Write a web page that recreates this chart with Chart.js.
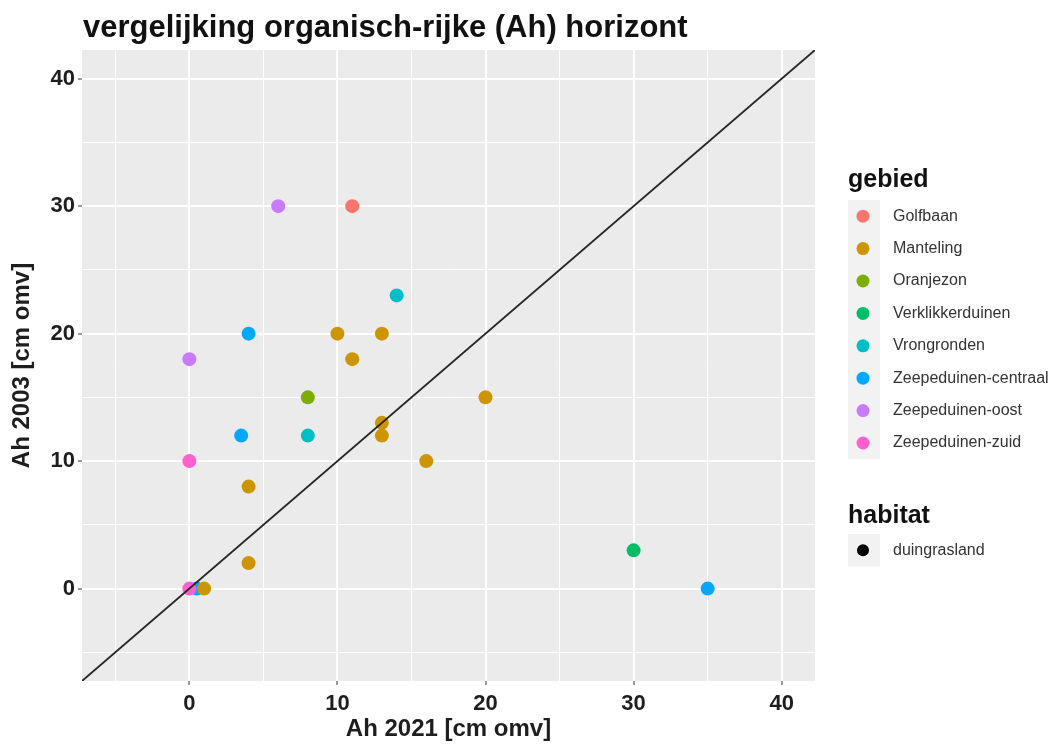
<!DOCTYPE html>
<html>
<head>
<meta charset="utf-8">
<script src="https://cdn.jsdelivr.net/npm/chart.js@4.4.1/dist/chart.umd.min.js"></script>
<style>
  html, body { margin: 0; padding: 0; background: #fff; }
  #wrap { width: 1054px; height: 744px; }
</style>
</head>
<body>
<div id="wrap"><canvas id="ahplot" width="1054" height="744"></canvas></div>
<script>
// gebied (categories) and their ggplot hue colours
var gebieden = ["Golfbaan", "Manteling", "Oranjezon", "Verklikkerduinen", "Vrongronden",
  "Zeepeduinen-centraal", "Zeepeduinen-oost", "Zeepeduinen-zuid"];
var kleuren = ["#F8766D", "#CD9600", "#7CAE00", "#00BE67", "#00BFC4", "#00A9FF", "#C77CFF", "#FF61CC"];

// one entry per meetpunt
var meetpuntGebied = [
  "Golfbaan",
  "Manteling", "Manteling", "Manteling", "Manteling", "Manteling",
  "Manteling", "Manteling", "Manteling", "Manteling", "Manteling",
  "Oranjezon",
  "Verklikkerduinen",
  "Vrongronden", "Vrongronden",
  "Zeepeduinen-centraal", "Zeepeduinen-centraal", "Zeepeduinen-centraal", "Zeepeduinen-centraal",
  "Zeepeduinen-oost", "Zeepeduinen-oost",
  "Zeepeduinen-zuid", "Zeepeduinen-zuid"
];
var ah2021 = [11, 10, 13, 11, 13, 13, 20, 16, 4, 4, 1, 8, 30, 14, 8, 4, 3.5, 35, 0.5, 6, 0, 0, 0];
var ah2003 = [30, 20, 20, 18, 13, 12, 15, 10, 8, 2, 0, 15, 3, 23, 12, 20, 12, 0, 0, 30, 18, 10, 0];

var tickWaarden = [0, 10, 20, 30, 40];
var asMin = -7.25, asMax = 42.25;

var habitats = ["duingrasland"];

var FONT = "'Liberation Sans', Arial, sans-serif";

var datasets = [{
  type: "line",
  label: "1:1",
  data: [{x: asMin, y: asMin}, {x: asMax, y: asMax}],
  borderColor: "#262626",
  borderWidth: 1.8,
  pointRadius: 0,
  fill: false,
  order: 0
}];
gebieden.forEach(function (g, i) {
  var pts = [];
  meetpuntGebied.forEach(function (mg, j) {
    if (mg === g) pts.push({x: ah2021[j], y: ah2003[j]});
  });
  datasets.push({
    label: g,
    data: pts,
    backgroundColor: kleuren[i],
    borderWidth: 0,
    pointRadius: 7,
    pointHoverRadius: 7,
    order: g === "Zeepeduinen-centraal" ? 3 : 1
  });
});

function asOpties(isY) {
  return {
    type: "linear",
    min: asMin,
    max: asMax,
    afterBuildTicks: function (scale) {
      var t = [];
      for (var v = -5; v <= 40; v += 5) t.push({value: v});
      scale.ticks = t;
    },
    afterFit: function (scale) {
      if (isY) scale.width = 82; else scale.height = 63;
    },
    ticks: {
      color: "#1e1e1e",
      font: {family: FONT, size: 22, weight: "bold"},
      padding: isY ? 3 : 6,
      maxRotation: 0,
      autoSkip: false,
      callback: function (v) { return tickWaarden.indexOf(v) >= 0 ? String(v) : ""; }
    },
    grid: {
      color: "#ffffff",
      lineWidth: function (c) { return c.tick && c.tick.value % 10 === 0 ? 2 : 1; },
      tickLength: 4,
      tickWidth: 1.2,
      tickColor: function (c) { return c.tick && c.tick.value % 10 === 0 ? "#555" : "rgba(0,0,0,0)"; }
    },
    border: {display: false},
    title: {
      display: true,
      text: isY ? "Ah 2003 [cm omv]" : "Ah 2021 [cm omv]",
      color: "#1e1e1e",
      font: {family: FONT, size: 24, weight: "bold", lineHeight: 1.1},
      padding: isY ? {top: 9} : {bottom: 1}
    }
  };
}

// grey panel, title and the two legends
var ggDecor = {
  id: "ggDecor",
  beforeDraw: function (chart) {
    var a = chart.chartArea, ctx = chart.ctx;
    ctx.save();
    ctx.fillStyle = "#EBEBEB";
    ctx.fillRect(a.left, a.top, a.right - a.left, a.bottom - a.top);
    ctx.restore();
  },
  afterDraw: function (chart) {
    var ctx = chart.ctx;
    ctx.save();
    ctx.fillStyle = "#111";
    ctx.textBaseline = "alphabetic";
    ctx.textAlign = "left";
    ctx.font = "bold 31px " + FONT;
    ctx.fillText("vergelijking organisch-rijke (Ah) horizont", 83, 37);

    var lx = 848, rij = 32.4;
    ctx.font = "bold 25px " + FONT;
    ctx.fillText("gebied", lx, 187);
    var top = 200;
    ctx.fillStyle = "#F2F2F2";
    ctx.fillRect(lx, top, 32, rij * gebieden.length);
    ctx.font = "16px " + FONT;
    ctx.textBaseline = "middle";
    gebieden.forEach(function (g, i) {
      var cy = top + rij * i + rij / 2;
      ctx.fillStyle = kleuren[i];
      ctx.beginPath();
      ctx.arc(lx + 15, cy, 6.5, 0, Math.PI * 2);
      ctx.fill();
      ctx.fillStyle = "#333";
      ctx.fillText(g, 893, cy);
    });

    ctx.textBaseline = "alphabetic";
    ctx.fillStyle = "#111";
    ctx.font = "bold 25px " + FONT;
    ctx.fillText("habitat", lx, 523);
    var htop = 534;
    ctx.font = "16px " + FONT;
    ctx.textBaseline = "middle";
    habitats.forEach(function (h, i) {
      var cy = htop + rij * i + rij / 2;
      ctx.fillStyle = "#F2F2F2";
      ctx.fillRect(lx, htop + rij * i, 32, rij);
      ctx.fillStyle = "#000";
      ctx.beginPath();
      ctx.arc(lx + 15, cy, 6, 0, Math.PI * 2);
      ctx.fill();
      ctx.fillStyle = "#333";
      ctx.fillText(h, 893, cy);
    });
    ctx.restore();
  }
};

var ctx = document.getElementById("ahplot").getContext("2d");
var ahChart = new Chart(ctx, {
  type: "scatter",
  data: {datasets: datasets},
  options: {
    responsive: false,
    animation: false,
    layout: {padding: {top: 50, right: 239, left: 0, bottom: 0}},
    plugins: {legend: {display: false}, tooltip: {enabled: false}, title: {display: false}},
    scales: {x: asOpties(false), y: asOpties(true)}
  },
  plugins: [ggDecor]
});
</script>
</body>
</html>
